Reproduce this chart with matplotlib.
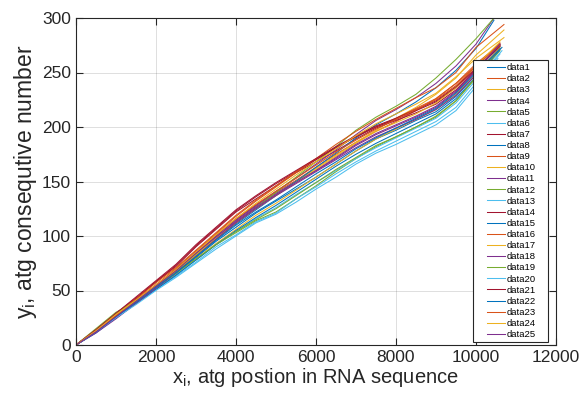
import numpy as np
import matplotlib
matplotlib.use("Agg")
import matplotlib.pyplot as plt
from matplotlib.legend_handler import HandlerLine2D

plt.rcParams['font.family'] = ['Liberation Sans', 'DejaVu Sans']
plt.rcParams['mathtext.fontset'] = 'custom'
plt.rcParams['mathtext.rm'] = 'Liberation Sans'
plt.rcParams['mathtext.it'] = 'Liberation Sans'

x_grid = [0, 500, 1000, 1500, 2000, 2500, 3000, 3500, 4000, 4500, 5000,
          5500, 6000, 6500, 7000, 7500, 8000, 8500, 9000, 9500, 10000]

# last x of every curve
x_end = [10600, 10600, 10700, 10600, 10600, 10600, 10600, 10450, 10600, 10600,
         10450, 10500, 10650, 10600, 10600, 10700, 10600, 10600, 10600, 10550,
         10600, 10650, 10600, 10700, 10600]

data1 = [0, 12, 26, 40, 53, 66, 80, 95, 108, 121, 132, 143, 154, 166, 178, 189, 197, 206, 214, 228, 248, 274]
data2 = [0, 14, 28, 41, 55, 69, 84, 100, 115, 128, 140, 151, 163, 175, 186, 196, 205, 215, 226, 240, 258, 276]
data3 = [0, 13, 27, 39, 54, 68, 83, 99, 113, 126, 138, 150, 162, 174, 186, 197, 208, 218, 230, 245, 266, 289]
data4 = [0, 12, 25, 38, 52, 66, 82, 98, 114, 127, 139, 150, 160, 171, 183, 193, 201, 209, 218, 232, 251, 275]
data5 = [0, 15, 30, 40, 53, 65, 78, 92, 103, 114, 122, 134, 146, 159, 171, 182, 191, 200, 209, 224, 245, 270]
data6 = [0, 12, 26, 38, 51, 63, 76, 90, 101, 113, 121, 134, 145, 157, 168, 178, 187, 196, 205, 218, 240, 267]
data7 = [0, 13, 28, 42, 58, 72, 90, 106, 122, 134, 146, 158, 168, 178, 189, 199, 206, 213, 221, 234, 252, 276]
data8 = [0, 12, 26, 39, 53, 67, 82, 97, 111, 124, 137, 150, 163, 176, 190, 202, 212, 223, 236, 252, 272, 298]
data9 = [0, 13, 27, 40, 55, 70, 86, 102, 118, 132, 145, 158, 170, 181, 191, 200, 208, 217, 226, 240, 256, 277]
data10 = [0, 12, 26, 39, 52, 65, 79, 93, 106, 119, 130, 142, 154, 166, 178, 189, 198, 207, 216, 230, 249, 273]
data11 = [0, 12, 27, 40, 54, 68, 84, 100, 115, 128, 141, 153, 166, 179, 193, 206, 216, 227, 240, 256, 276, 300]
data12 = [0, 13, 28, 40, 54, 68, 82, 97, 112, 126, 140, 154, 168, 182, 197, 209, 219, 230, 245, 262, 281, 302]
data13 = [0, 12, 25, 38, 51, 64, 78, 92, 104, 116, 126, 138, 149, 160, 171, 181, 190, 199, 208, 222, 243, 270]
data14 = [0, 13, 29, 43, 58, 73, 91, 107, 123, 136, 148, 159, 170, 181, 191, 200, 207, 215, 223, 236, 253, 275]
data15 = [0, 11, 25, 38, 51, 64, 78, 92, 105, 117, 128, 140, 152, 164, 175, 185, 194, 203, 212, 226, 246, 271]
data16 = [0, 14, 29, 42, 57, 71, 87, 103, 119, 133, 146, 159, 171, 184, 196, 207, 217, 227, 236, 250, 273, 294]
data17 = [0, 13, 27, 40, 54, 68, 83, 98, 112, 125, 137, 149, 161, 173, 185, 196, 204, 212, 222, 236, 256, 278]
data18 = [0, 11, 24, 38, 52, 66, 81, 97, 112, 125, 137, 148, 159, 170, 181, 191, 199, 207, 216, 229, 248, 272]
data19 = [0, 14, 29, 41, 54, 66, 79, 92, 104, 115, 125, 137, 149, 161, 172, 183, 191, 200, 210, 224, 246, 272]
data20 = [0, 12, 25, 37, 50, 62, 75, 88, 100, 112, 120, 131, 143, 154, 166, 176, 184, 193, 202, 215, 237, 263]
data21 = [0, 14, 29, 44, 59, 74, 92, 108, 124, 137, 149, 160, 171, 182, 192, 201, 208, 216, 224, 237, 254, 274]
data22 = [0, 12, 26, 39, 53, 66, 81, 96, 110, 122, 133, 145, 157, 168, 180, 190, 199, 208, 217, 231, 250, 273]
data23 = [0, 13, 27, 41, 55, 69, 85, 101, 116, 129, 141, 153, 165, 177, 188, 198, 207, 216, 225, 238, 256, 275]
data24 = [0, 13, 28, 41, 55, 69, 85, 101, 116, 130, 143, 156, 168, 180, 192, 203, 212, 221, 231, 246, 263, 282]
data25 = [0, 12, 26, 40, 54, 68, 84, 99, 113, 126, 138, 149, 160, 172, 184, 194, 202, 210, 219, 233, 252, 276]

series = [data1, data2, data3, data4, data5, data6, data7, data8, data9, data10,
          data11, data12, data13, data14, data15, data16, data17, data18, data19, data20,
          data21, data22, data23, data24, data25]

# matlab default color order
colors = ['#0072BD', '#D95319', '#EDB120', '#7E2F8E', '#77AC30', '#4DBEEE', '#A2142F']


class PadHandler(HandlerLine2D):
    # leave a gap on the left of the legend line, like matlab does
    def create_artists(self, legend, orig_handle, xdescent, ydescent, width, height, fontsize, trans):
        gap = 0.38 * width
        return super().create_artists(legend, orig_handle, xdescent - gap, ydescent,
                                      width - gap, height, fontsize, trans)


fig = plt.figure(figsize=(5.84, 4.0), dpi=100)
ax = fig.add_axes([0.130, 0.1375, 0.822, 0.8175])

for i in range(len(series)):
    xs = x_grid + [x_end[i]]
    ax.plot(xs, series[i], color=colors[i % 7], lw=0.75, label="data" + str(i + 1))

ax.set_xlim(0, 12000)
ax.set_ylim(0, 300)
ax.set_xticks(np.arange(0, 12001, 2000))
ax.set_yticks(np.arange(0, 301, 50))
ax.grid(True, color='#262626', alpha=0.15, lw=0.7)
ax.tick_params(direction='in', length=5, width=0.8, top=True, right=True,
               labelsize=12.5, colors='#262626')
for sp in ax.spines.values():
    sp.set_color('#262626')
    sp.set_linewidth(0.8)

ax.set_xlabel(r'x$_{\mathrm{i}}$, atg postion in RNA sequence', fontsize=14.5, color='#262626', labelpad=1)
ax.set_ylabel(r'y$_{\mathrm{i}}$, atg consequtive number', fontsize=16.5, color='#262626', labelpad=2)

leg = ax.legend(loc='lower left', bbox_to_anchor=(0.827, 0.009, 0.156, 0.1), mode='expand',
                fontsize=6.8, labelspacing=0.225, handlelength=3.1, handletextpad=0.2,
                borderpad=0.3, borderaxespad=0, fancybox=False, framealpha=1,
                edgecolor='#262626', handler_map={plt.Line2D: PadHandler()})
leg.get_frame().set_linewidth(0.8)

plt.savefig("out.png", dpi=100)
